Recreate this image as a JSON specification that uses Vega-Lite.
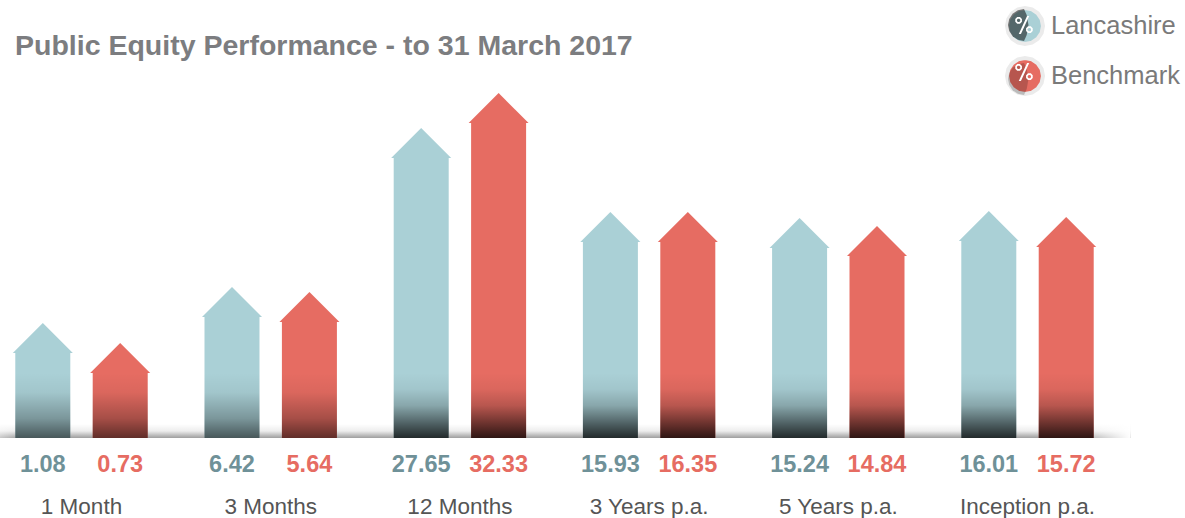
{
"$schema":"https://vega.github.io/schema/vega-lite/v6.json",
"width":1185,"height":518,"autosize":{"type":"none"},"padding":0,"background":"white",
"title":{"text":"Public Equity Performance - to 31 March 2017","anchor":"start","frame":"group","font":"Liberation Sans","fontSize":28.5,"fontWeight":"bold","color":"#7c7d80","dx":15,"dy":64},
"config":{"view":{"stroke":null},"font":"Liberation Sans"},
"data":{"values":[
{"period":"1 Month","series":"Lancashire","value":1.08,"shaft":85},
{"period":"1 Month","series":"Benchmark","value":0.73,"shaft":65},
{"period":"3 Months","series":"Lancashire","value":6.42,"shaft":121},
{"period":"3 Months","series":"Benchmark","value":5.64,"shaft":116},
{"period":"12 Months","series":"Lancashire","value":27.65,"shaft":280},
{"period":"12 Months","series":"Benchmark","value":32.33,"shaft":315},
{"period":"3 Years p.a.","series":"Lancashire","value":15.93,"shaft":196},
{"period":"3 Years p.a.","series":"Benchmark","value":16.35,"shaft":196},
{"period":"5 Years p.a.","series":"Lancashire","value":15.24,"shaft":190},
{"period":"5 Years p.a.","series":"Benchmark","value":14.84,"shaft":182},
{"period":"Inception p.a.","series":"Lancashire","value":16.01,"shaft":197},
{"period":"Inception p.a.","series":"Benchmark","value":15.72,"shaft":191}
]},
"layer":[
{"data":{"values":[{"part":"shadow"}]},
 "mark":{"type":"rect","xOffset":-85,"x2Offset":103,"fill":{"gradient":"linear","x1":0,"y1":0,"x2":0,"y2":1,"stops":[{"offset":0,"color":"rgba(0,0,0,0)"},{"offset":0.5,"color":"rgba(0,0,0,0.07)"},{"offset":1,"color":"rgba(0,0,0,0.38)"}]}},
 "encoding":{"x":{"datum":"1 Month","type":"nominal","sort":["1 Month","3 Months","12 Months","3 Years p.a.","5 Years p.a.","Inception p.a."],
   "scale":{"domain":["1 Month","3 Months","12 Months","3 Years p.a.","5 Years p.a.","Inception p.a."],"range":[-13.1,1122.1],"paddingInner":0,"paddingOuter":0},
   "axis":{"title":null,"domain":false,"ticks":false,"grid":false,"labelAngle":0,"labelFontSize":22.5,"labelColor":"#555555","labelPadding":-23,"labelFont":"Liberation Sans"}},
   "x2":{"datum":"Inception p.a."},
   "y":{"datum":14,"type":"quantitative","scale":{"domain":[-80,438],"range":[518,0],"nice":false,"zero":false},"axis":null},"y2":{"datum":0}}},
{"data":{"values":[{"part":"shadow fade"}]},
 "mark":{"type":"rect","xOffset":-85,"x2Offset":103,"fill":{"gradient":"linear","x1":0,"y1":0,"x2":1,"y2":0,"stops":[{"offset":0,"color":"rgba(255,255,255,0.5)"},{"offset":0.02,"color":"rgba(255,255,255,0)"},{"offset":0.95,"color":"rgba(255,255,255,0)"},{"offset":1,"color":"rgba(255,255,255,1)"}]}},
 "encoding":{"x":{"datum":"1 Month","type":"nominal"},"x2":{"datum":"Inception p.a."},"y":{"datum":14,"type":"quantitative"},"y2":{"datum":0}}},
{"mark":{"type":"bar","size":55},
 "encoding":{"x":{"field":"period","type":"nominal"},
  "xOffset":{"field":"series","type":"nominal","scale":{"domain":["Lancashire","Benchmark"],"paddingInner":0,"paddingOuter":0.222}},
  "y":{"field":"shaft","type":"quantitative","stack":null},
  "color":{"field":"series","type":"nominal","scale":{"domain":["Lancashire","Benchmark"],"range":["#aad0d6","#e66c62"]},
   "legend":{"orient":"none","legendX":1005,"legendY":6,"title":null,"symbolType":"M-1,0L-0.924,-0.383L-0.707,-0.707L-0.383,-0.924L0,-1L0.383,-0.924L0.707,-0.707L0.924,-0.383L1,0L0.924,0.383L0.707,0.707L0.383,0.924L0,1L-0.383,0.924L-0.707,0.707L-0.924,0.383Z","symbolSize":1296,"symbolStrokeWidth":4,"symbolStrokeColor":"#ebebeb","labelFontSize":25.5,"labelColor":"#7a7a7a","labelFont":"Liberation Sans","labelOffset":6,"rowPadding":-2}}}},
{"transform":[{"filter":"datum.period==='1 Month'||datum.period==='3 Months'"}],
 "mark":{"type":"bar","size":55,"fill":{"gradient":"linear","x1":0,"y1":0,"x2":0,"y2":1,"stops":[{"offset":0,"color":"rgba(0,0,0,0)"},{"offset":0.3,"color":"rgba(0,0,0,0.05)"},{"offset":0.7,"color":"rgba(0,0,0,0.28)"},{"offset":1,"color":"rgba(0,0,0,0.58)"}]}},
 "encoding":{"x":{"field":"period","type":"nominal"},
  "xOffset":{"field":"series","type":"nominal"},
  "y":{"datum":65,"type":"quantitative"},"y2":{"datum":0}}},
{"transform":[{"filter":"datum.period!=='1 Month'&&datum.period!=='3 Months'"}],
 "mark":{"type":"bar","size":55,"fill":{"gradient":"linear","x1":0,"y1":0,"x2":0,"y2":1,"stops":[{"offset":0,"color":"rgba(0,0,0,0)"},{"offset":0.25,"color":"rgba(0,0,0,0.05)"},{"offset":0.5,"color":"rgba(0,0,0,0.2)"},{"offset":0.75,"color":"rgba(0,0,0,0.5)"},{"offset":1,"color":"rgba(0,0,0,0.8)"}]}},
 "encoding":{"x":{"field":"period","type":"nominal"},
  "xOffset":{"field":"series","type":"nominal"},
  "y":{"datum":65,"type":"quantitative"},"y2":{"datum":0}}},
{"mark":{"type":"point","filled":true,"shape":"M-1,0L0,-1L1,0Z","size":3600,"opacity":1},
 "encoding":{"x":{"field":"period","type":"nominal"},
  "xOffset":{"field":"series","type":"nominal"},
  "y":{"field":"shaft","type":"quantitative","stack":null},
  "color":{"field":"series","type":"nominal"}}},
{"mark":{"type":"text","fontSize":23.5,"fontWeight":"bold","dy":27,"baseline":"middle"},
 "encoding":{"x":{"field":"period","type":"nominal"},
  "xOffset":{"field":"series","type":"nominal"},
  "y":{"datum":0,"type":"quantitative"},
  "text":{"field":"value","type":"quantitative","format":".2f"},
  "fill":{"field":"series","type":"nominal","scale":{"domain":["Lancashire","Benchmark"],"range":["#6f9198","#e66c62"]},"legend":null}}},
{"data":{"values":[{"shade":"Lancashire shade"},{"shade":"Benchmark shade"}]},
 "mark":{"type":"point","filled":true,"size":0,"color":"black"},
 "encoding":{"x":{"datum":"1 Month","type":"nominal"},"y":{"datum":0,"type":"quantitative"},
  "opacity":{"field":"shade","type":"nominal","scale":{"domain":["Lancashire shade","Benchmark shade"],"range":[0.5,0.2]},
   "legend":{"orient":"none","legendX":1005,"legendY":6,"title":null,"symbolType":"M0,-0.89L-0.34,-0.82L-0.63,-0.63L-0.82,-0.34L-0.89,0L-0.82,0.34L-0.63,0.63L-0.34,0.82L0,0.89L0.15,0.55L0.25,0L0.15,-0.55Z","symbolSize":1296,"symbolFillColor":"black","symbolStrokeColor":"transparent","labelExpr":"''","labelFontSize":25.5,"rowPadding":14}}}},
{"data":{"values":[{"icon":"Lancashire %"},{"icon":"Benchmark %"}]},
 "mark":{"type":"point","filled":true,"size":0,"color":"white"},
 "encoding":{"x":{"datum":"1 Month","type":"nominal"},"y":{"datum":0,"type":"quantitative"},
  "shape":{"field":"icon","type":"nominal","scale":{"domain":["Lancashire %","Benchmark %"],"range":["M0.17,-0.5L0.29,-0.5L-0.17,0.5L-0.29,0.5ZM-0.115,-0.183L-0.223,-0.075L-0.377,-0.075L-0.485,-0.183L-0.485,-0.337L-0.377,-0.445L-0.223,-0.445L-0.115,-0.337ZM-0.208,-0.298L-0.262,-0.352L-0.338,-0.352L-0.392,-0.298L-0.392,-0.222L-0.338,-0.168L-0.262,-0.168L-0.208,-0.222ZM0.485,0.337L0.377,0.445L0.223,0.445L0.115,0.337L0.115,0.183L0.223,0.075L0.377,0.075L0.485,0.183ZM0.392,0.222L0.338,0.168L0.262,0.168L0.208,0.222L0.208,0.298L0.262,0.352L0.338,0.352L0.392,0.298Z","M0.17,-0.5L0.29,-0.5L-0.17,0.5L-0.29,0.5ZM-0.115,-0.183L-0.223,-0.075L-0.377,-0.075L-0.485,-0.183L-0.485,-0.337L-0.377,-0.445L-0.223,-0.445L-0.115,-0.337ZM-0.208,-0.298L-0.262,-0.352L-0.338,-0.352L-0.392,-0.298L-0.392,-0.222L-0.338,-0.168L-0.262,-0.168L-0.208,-0.222ZM0.485,0.337L0.377,0.445L0.223,0.445L0.115,0.337L0.115,0.183L0.223,0.075L0.377,0.075L0.485,0.183ZM0.392,0.222L0.338,0.168L0.262,0.168L0.208,0.222L0.208,0.298L0.262,0.352L0.338,0.352L0.392,0.298Z"]},
   "legend":{"orient":"none","legendX":1005,"legendY":6,"title":null,"symbolSize":1296,"symbolOpacity":1,"symbolFillColor":"white","symbolStrokeColor":"transparent","labelExpr":"''","labelFontSize":25.5,"rowPadding":14}}}}
]
}
